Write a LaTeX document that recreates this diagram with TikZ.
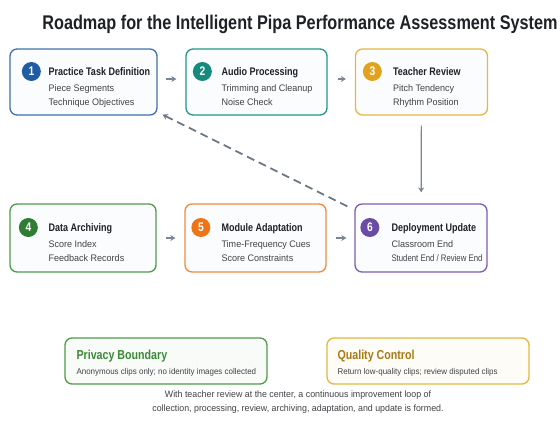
\documentclass[tikz,border=0pt]{standalone}
\usepackage{fontspec}
\setmainfont{Liberation Sans}[FakeStretch=0.95]
\newfontfamily\headfont{Liberation Sans}[FakeStretch=0.82]
\usetikzlibrary{arrows.meta}

\definecolor{ink}{HTML}{1E2227}
\definecolor{paper}{HTML}{FBFCFD}
\definecolor{arrowgray}{HTML}{7A8593}
\definecolor{blueline}{HTML}{3D72AA}
\definecolor{bluedot}{HTML}{1F5CA3}
\definecolor{tealline}{HTML}{22978A}
\definecolor{tealdot}{HTML}{158A7D}
\definecolor{goldline}{HTML}{E6B83F}
\definecolor{golddot}{HTML}{E1A31F}
\definecolor{greenline}{HTML}{4E9C4B}
\definecolor{greendot}{HTML}{2F7D33}
\definecolor{orangeline}{HTML}{EF8B3C}
\definecolor{orangedot}{HTML}{EE7418}
\definecolor{purpleline}{HTML}{7B5EB2}
\definecolor{purpledot}{HTML}{6A4BA7}
\definecolor{privtext}{HTML}{3A8A36}
\definecolor{qualtext}{HTML}{A97A14}

\begin{document}
\begin{tikzpicture}[x=1pt,y=-1pt,
    stage/.style ={draw, line width=1.3pt, rounded corners=7pt, fill=paper, minimum height=66pt, inner sep=0pt},
    badge/.style ={circle, fill, text=white, minimum size=19pt, inner sep=0pt, font=\headfont\fontsize{12.5}{12.5}\selectfont\bfseries},
    head/.style ={anchor=base west, inner sep=0pt, text=ink, font=\headfont\fontsize{11}{13}\selectfont\bfseries},
    item/.style ={anchor=base west, inner sep=0pt, text=ink!85, font=\fontsize{9.5}{11}\selectfont},
    flow/.style ={-{Stealth[length=5pt,width=6pt]}, line width=1.5pt, draw=arrowgray},
    note/.style ={draw, line width=1.3pt, rounded corners=7pt, minimum width=202pt, minimum height=46pt, inner sep=0pt},
    notehead/.style ={anchor=base west, inner sep=0pt, font=\headfont\fontsize{13}{15}\selectfont\bfseries},
    notetext/.style ={anchor=base west, inner sep=0pt, text=ink!85, font=\fontsize{8.4}{10}\selectfont}]
   \path[fill=white] (0,0) rectangle (560,426);

   \node[inner sep=0pt, anchor=base, text=ink, font=\headfont\fontsize{19.8}{22}\selectfont\bfseries] (title) at (300,29) {Roadmap for the Intelligent Pipa Performance Assessment System};

   % first row
   \node[stage, draw=blueline, minimum width=147pt] (A) at (83.5,82) {};
   \node[badge, fill=bluedot] (a) at ([xshift=22pt,yshift=10.5pt]A.west) {1};
   \node[head] (a1) at ([xshift=39pt,yshift=7pt]A.west) {Practice Task Definition};
   \node[item] (a2) at ([xshift=39pt,yshift=-9.5pt]A.west) {Piece Segments};
   \node[item] (a3) at ([xshift=39pt,yshift=-23.5pt]A.west) {Technique Objectives};

   \node[stage, draw=tealline, minimum width=141pt] (B) at (256.5,82) {};
   \node[badge, fill=tealdot] (b) at ([xshift=17pt,yshift=10.5pt]B.west) {2};
   \node[head] (b1) at ([xshift=36pt,yshift=7pt]B.west) {Audio Processing};
   \node[item] (b2) at ([xshift=36pt,yshift=-9.5pt]B.west) {Trimming and Cleanup};
   \node[item] (b3) at ([xshift=36pt,yshift=-23.5pt]B.west) {Noise Check};

   \node[stage, draw=goldline, minimum width=132pt] (C) at (421.5,82) {};
   \node[badge, fill=golddot] (c) at ([xshift=17.5pt,yshift=10.5pt]C.west) {3};
   \node[head] (c1) at ([xshift=38pt,yshift=7pt]C.west) {Teacher Review};
   \node[item] (c2) at ([xshift=38pt,yshift=-9.5pt]C.west) {Pitch Tendency};
   \node[item] (c3) at ([xshift=38pt,yshift=-23.5pt]C.west) {Rhythm Position};

   % second row
   \node[stage, draw=greenline, minimum width=146pt, minimum height=68pt] (D) at (83,238) {};
   \node[badge, fill=greendot] (d) at ([xshift=19pt,yshift=10.5pt]D.west) {4};
   \node[head] (d1) at ([xshift=39pt,yshift=7pt]D.west) {Data Archiving};
   \node[item] (d2) at ([xshift=39pt,yshift=-9.5pt]D.west) {Score Index};
   \node[item] (d3) at ([xshift=39pt,yshift=-23.5pt]D.west) {Feedback Records};

   \node[stage, draw=orangeline, minimum width=141pt, minimum height=68pt] (E) at (255.5,238) {};
   \node[badge, fill=orangedot] (e) at ([xshift=16.5pt,yshift=10.5pt]E.west) {5};
   \node[head] (e1) at ([xshift=37pt,yshift=7pt]E.west) {Module Adaptation};
   \node[item] (e2) at ([xshift=37pt,yshift=-9.5pt]E.west) {Time-Frequency Cues};
   \node[item] (e3) at ([xshift=37pt,yshift=-23.5pt]E.west) {Score Constraints};

   \node[stage, draw=purpleline, minimum width=132pt, minimum height=68pt] (F) at (421,238) {};
   \node[badge, fill=purpledot] (f) at ([xshift=15.5pt,yshift=10.5pt]F.west) {6};
   \node[head] (f1) at ([xshift=37pt,yshift=7pt]F.west) {Deployment Update};
   \node[item] (f2) at ([xshift=37pt,yshift=-9.5pt]F.west) {Classroom End};
   \node[item, font=\headfont\fontsize{9.5}{11}\selectfont] (f3) at ([xshift=37pt,yshift=-23.5pt]F.west) {Student End / Review End};

   % connectors
   \draw[flow] ([yshift=3pt]A.east) -- ([yshift=3pt]B.west) [shorten <=8pt, shorten >=9pt];
   \draw[flow] ([yshift=3pt]B.east) -- ([yshift=3pt]C.west) [shorten <=10pt, shorten >=9pt];
   \draw[flow, line width=1.2pt] (C) -- (F) [shorten <=10pt, shorten >=11pt];
   \draw[flow] (D.east) -- (E.west) [shorten <=9pt, shorten >=9pt];
   \draw[flow] (E.east) -- (F.west) [shorten <=9pt, shorten >=8pt];
   \draw[flow, line width=1.8pt, dash pattern=on 8pt off 5pt, draw=arrowgray!90!black] ([xshift=-7pt,yshift=-3pt]F.north west) -- ([xshift=5pt,yshift=1pt]A.south east);

   % notes
   \node[note, draw=greenline, fill=greenline!4] (P) at (166,361) {};
   \node[notehead, text=privtext] (p1) at ([xshift=12pt,yshift=2pt]P.west) {Privacy Boundary};
   \node[notetext] (p2) at ([xshift=12pt,yshift=-13pt]P.west) {Anonymous clips only; no identity images collected};
   \node[note, draw=goldline, fill=goldline!4] (Q) at (428,361) {};
   \node[notehead, text=qualtext] (q1) at ([xshift=11pt,yshift=2pt]Q.west) {Quality Control};
   \node[notetext] (q2) at ([xshift=11pt,yshift=-13pt]Q.west) {Return low-quality clips; review disputed clips};

   \node[anchor=base, align=center, inner sep=0pt, text=ink!85, font=\fontsize{9.3}{13.5}\selectfont] (cap) at (298,411) {With teacher review at the center, a continuous improvement loop of\\collection, processing, review, archiving, adaptation, and update is formed.};
\end{tikzpicture}
\end{document}
